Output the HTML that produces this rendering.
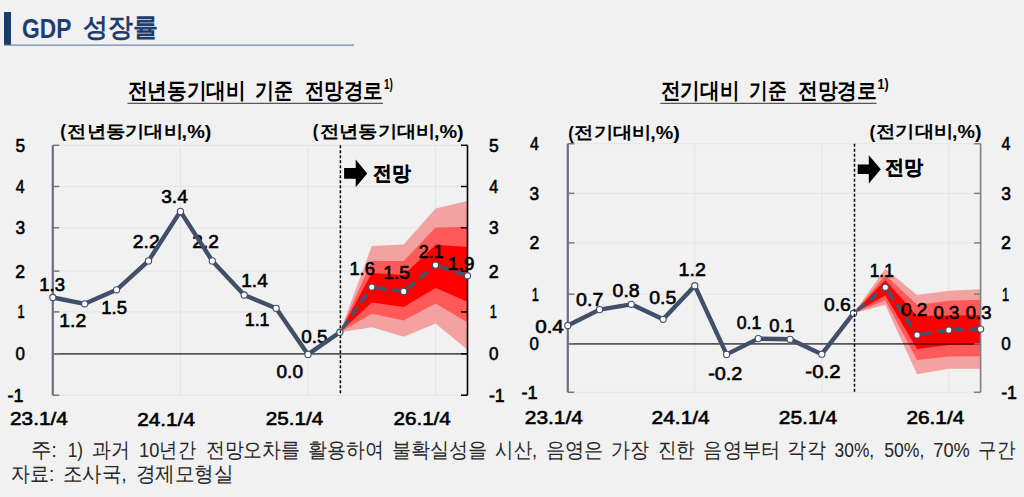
<!DOCTYPE html><html><head><meta charset="utf-8"><style>
html,body{margin:0;padding:0;background:#f1f1f1;width:1024px;height:497px;overflow:hidden}
svg{position:absolute;left:0;top:0;font-family:"Liberation Sans",sans-serif}
</style></head><body>
<svg width="1024" height="497" viewBox="0 0 1024 497">
<rect x="4" y="12" width="7" height="33" fill="#1b3b6b"/>
<line x1="4" y1="45.1" x2="354" y2="45.1" stroke="#7189aa" stroke-width="1.3"/>
<line x1="127.5" y1="103.3" x2="383" y2="103.3" stroke="#333" stroke-width="1"/>
<line x1="660.3" y1="103.3" x2="876.6" y2="103.3" stroke="#333" stroke-width="1"/>
<line x1="52.8" y1="311.9" x2="467.5" y2="311.9" stroke="#e4e4e4" stroke-width="1"/>
<line x1="52.8" y1="271.1" x2="467.5" y2="271.1" stroke="#e4e4e4" stroke-width="1"/>
<line x1="52.8" y1="227.8" x2="467.5" y2="227.8" stroke="#e4e4e4" stroke-width="1"/>
<line x1="52.8" y1="186.5" x2="467.5" y2="186.5" stroke="#e4e4e4" stroke-width="1"/>
<line x1="52.8" y1="145.3" x2="467.5" y2="145.3" stroke="#e4e4e4" stroke-width="1"/>
<line x1="52.8" y1="395.2" x2="467.5" y2="395.2" stroke="#e4e4e4" stroke-width="1"/>
<line x1="180.4" y1="145.3" x2="180.4" y2="395.2" stroke="#e4e4e4" stroke-width="1"/>
<line x1="308.0" y1="145.3" x2="308.0" y2="395.2" stroke="#e4e4e4" stroke-width="1"/>
<line x1="435.6" y1="145.3" x2="435.6" y2="395.2" stroke="#e4e4e4" stroke-width="1"/>
<path d="M339.9,332.2 L371.8,246.0 L403.7,244.4 L435.6,208.6 L467.5,201.0 L467.5,349.7 L435.6,323.4 L403.7,336.7 L371.8,327.3 Z" fill="#f4a1a1"/>
<path d="M339.9,332.2 L371.8,261.0 L403.7,261.0 L435.6,227.4 L467.5,226.7 L467.5,322.5 L435.6,303.5 L403.7,320.5 L371.8,313.7 Z" fill="#ff5a5a"/>
<path d="M339.9,332.2 L371.8,273.0 L403.7,275.0 L435.6,244.8 L467.5,247.0 L467.5,301.7 L435.6,288.0 L403.7,307.0 L371.8,302.4 Z" fill="#ff0000"/>
<line x1="52.8" y1="353.8" x2="467.5" y2="353.8" stroke="#000" stroke-opacity="0.64" stroke-width="1.7"/>
<line x1="52.8" y1="145.3" x2="52.8" y2="395.2" stroke="#6c6c86" stroke-width="2.2"/>
<line x1="467.5" y1="145.3" x2="467.5" y2="395.2" stroke="#000" stroke-width="1.6"/>
<line x1="52.8" y1="395.2" x2="59.3" y2="395.2" stroke="#777" stroke-width="1.5"/>
<line x1="461.0" y1="395.2" x2="467.5" y2="395.2" stroke="#000" stroke-width="1.5"/>
<line x1="52.8" y1="353.8" x2="59.3" y2="353.8" stroke="#777" stroke-width="1.5"/>
<line x1="461.0" y1="353.8" x2="467.5" y2="353.8" stroke="#000" stroke-width="1.5"/>
<line x1="52.8" y1="311.9" x2="59.3" y2="311.9" stroke="#777" stroke-width="1.5"/>
<line x1="461.0" y1="311.9" x2="467.5" y2="311.9" stroke="#000" stroke-width="1.5"/>
<line x1="52.8" y1="271.1" x2="59.3" y2="271.1" stroke="#777" stroke-width="1.5"/>
<line x1="461.0" y1="271.1" x2="467.5" y2="271.1" stroke="#000" stroke-width="1.5"/>
<line x1="52.8" y1="227.8" x2="59.3" y2="227.8" stroke="#777" stroke-width="1.5"/>
<line x1="461.0" y1="227.8" x2="467.5" y2="227.8" stroke="#000" stroke-width="1.5"/>
<line x1="52.8" y1="186.5" x2="59.3" y2="186.5" stroke="#777" stroke-width="1.5"/>
<line x1="461.0" y1="186.5" x2="467.5" y2="186.5" stroke="#000" stroke-width="1.5"/>
<line x1="52.8" y1="145.3" x2="59.3" y2="145.3" stroke="#777" stroke-width="1.5"/>
<line x1="461.0" y1="145.3" x2="467.5" y2="145.3" stroke="#000" stroke-width="1.5"/>
<path d="M339.9,332.2 L371.8,287.0" fill="none" stroke="#3d566c" stroke-width="3.6" stroke-linecap="round" stroke-dasharray="7.5 8.5" stroke-dashoffset="-6"/>
<path d="M371.8,287.0 L403.7,291.4" fill="none" stroke="#3d566c" stroke-width="3.6" stroke-linecap="round" stroke-dasharray="7.5 8.5" stroke-dashoffset="-6"/>
<path d="M403.7,291.4 L435.6,265.1" fill="none" stroke="#3d566c" stroke-width="3.6" stroke-linecap="round" stroke-dasharray="7.5 8.5" stroke-dashoffset="-6"/>
<path d="M435.6,265.1 L467.5,275.8" fill="none" stroke="#3d566c" stroke-width="3.6" stroke-linecap="round" stroke-dasharray="7.5 8.5" stroke-dashoffset="-6"/>
<circle cx="371.8" cy="287.0" r="3.1" fill="#fff" stroke="#424f6a" stroke-width="1.1"/>
<circle cx="403.7" cy="291.4" r="3.1" fill="#fff" stroke="#424f6a" stroke-width="1.1"/>
<circle cx="435.6" cy="265.1" r="3.1" fill="#fff" stroke="#424f6a" stroke-width="1.1"/>
<circle cx="467.5" cy="275.8" r="3.1" fill="#fff" stroke="#424f6a" stroke-width="1.1"/>
<path d="M344.1,168.1 L355.7,168.1 L355.7,159.6 L367.2,173.39999999999998 L355.7,187.2 L355.7,178.7 L344.1,178.7 Z" fill="#000"/>
<line x1="567.8" y1="294.2" x2="980.6" y2="294.2" stroke="#e4e4e4" stroke-width="1"/>
<line x1="567.8" y1="242.9" x2="980.6" y2="242.9" stroke="#e4e4e4" stroke-width="1"/>
<line x1="567.8" y1="193.4" x2="980.6" y2="193.4" stroke="#e4e4e4" stroke-width="1"/>
<line x1="567.8" y1="143.7" x2="980.6" y2="143.7" stroke="#e4e4e4" stroke-width="1"/>
<line x1="567.8" y1="392.3" x2="980.6" y2="392.3" stroke="#e4e4e4" stroke-width="1"/>
<line x1="694.8" y1="143.7" x2="694.8" y2="392.3" stroke="#e4e4e4" stroke-width="1"/>
<line x1="821.8" y1="143.7" x2="821.8" y2="392.3" stroke="#e4e4e4" stroke-width="1"/>
<line x1="948.8" y1="143.7" x2="948.8" y2="392.3" stroke="#e4e4e4" stroke-width="1"/>
<path d="M853.6,313.2 L885.3,268.8 L917.1,295.1 L948.8,290.8 L980.6,289.3 L980.6,368.8 L948.8,368.8 L917.1,374.2 L885.3,304.8 Z" fill="#f4a1a1"/>
<path d="M853.6,313.2 L885.3,275.0 L917.1,304.8 L948.8,300.8 L980.6,299.8 L980.6,356.3 L948.8,356.5 L917.1,360.1 L885.3,300.3 Z" fill="#ff5a5a"/>
<path d="M853.6,313.2 L885.3,280.0 L917.1,316.0 L948.8,315.5 L980.6,315.3 L980.6,344.5 L948.8,345.0 L917.1,348.9 L885.3,295.5 Z" fill="#ff0000"/>
<line x1="567.8" y1="343.9" x2="980.6" y2="343.9" stroke="#000" stroke-opacity="0.64" stroke-width="1.7"/>
<line x1="567.8" y1="143.7" x2="567.8" y2="392.3" stroke="#6c6c86" stroke-width="2.2"/>
<line x1="980.6" y1="143.7" x2="980.6" y2="392.3" stroke="#7f7f7f" stroke-width="1.6"/>
<line x1="567.8" y1="392.3" x2="574.3" y2="392.3" stroke="#777" stroke-width="1.5"/>
<line x1="974.1" y1="392.3" x2="980.6" y2="392.3" stroke="#7f7f7f" stroke-width="1.5"/>
<line x1="567.8" y1="343.9" x2="574.3" y2="343.9" stroke="#777" stroke-width="1.5"/>
<line x1="974.1" y1="343.9" x2="980.6" y2="343.9" stroke="#7f7f7f" stroke-width="1.5"/>
<line x1="567.8" y1="294.2" x2="574.3" y2="294.2" stroke="#777" stroke-width="1.5"/>
<line x1="974.1" y1="294.2" x2="980.6" y2="294.2" stroke="#7f7f7f" stroke-width="1.5"/>
<line x1="567.8" y1="242.9" x2="574.3" y2="242.9" stroke="#777" stroke-width="1.5"/>
<line x1="974.1" y1="242.9" x2="980.6" y2="242.9" stroke="#7f7f7f" stroke-width="1.5"/>
<line x1="567.8" y1="193.4" x2="574.3" y2="193.4" stroke="#777" stroke-width="1.5"/>
<line x1="974.1" y1="193.4" x2="980.6" y2="193.4" stroke="#7f7f7f" stroke-width="1.5"/>
<line x1="567.8" y1="143.7" x2="574.3" y2="143.7" stroke="#777" stroke-width="1.5"/>
<line x1="974.1" y1="143.7" x2="980.6" y2="143.7" stroke="#7f7f7f" stroke-width="1.5"/>
<path d="M853.6,313.2 L885.3,287.3" fill="none" stroke="#3d566c" stroke-width="3.6" stroke-linecap="round" stroke-dasharray="7.5 8.5" stroke-dashoffset="-6"/>
<path d="M885.3,287.3 L917.1,335.0" fill="none" stroke="#3d566c" stroke-width="3.6" stroke-linecap="round" stroke-dasharray="7.5 8.5" stroke-dashoffset="-6"/>
<path d="M917.1,335.0 L948.8,330.0" fill="none" stroke="#3d566c" stroke-width="3.6" stroke-linecap="round" stroke-dasharray="7.5 8.5" stroke-dashoffset="-6"/>
<path d="M948.8,330.0 L980.6,329.1" fill="none" stroke="#3d566c" stroke-width="3.6" stroke-linecap="round" stroke-dasharray="7.5 8.5" stroke-dashoffset="-6"/>
<circle cx="885.3" cy="287.3" r="3.1" fill="#fff" stroke="#424f6a" stroke-width="1.1"/>
<circle cx="917.1" cy="335.0" r="3.1" fill="#fff" stroke="#424f6a" stroke-width="1.1"/>
<circle cx="948.8" cy="330.0" r="3.1" fill="#fff" stroke="#424f6a" stroke-width="1.1"/>
<circle cx="980.6" cy="329.1" r="3.1" fill="#fff" stroke="#424f6a" stroke-width="1.1"/>
<path d="M857.7,164.6 L868.8,164.6 L868.8,155.2 L880.8,169.3 L868.8,183.4 L868.8,174 L857.7,174 Z" fill="#000"/>
<text x="22.09" y="37.94" font-size="27.5" font-weight="bold" fill="#1e3d6e" textLength="49.25" lengthAdjust="spacingAndGlyphs">GDP</text>
<text x="83.25" y="35.65" font-size="25.5" font-weight="bold" fill="#1e3d6e" textLength="75.05" lengthAdjust="spacingAndGlyphs">성장률</text>
<text x="127.51" y="98.16" font-size="21.7" font-weight="bold" fill="#000" textLength="118.35" lengthAdjust="spacingAndGlyphs">전년동기대비</text>
<text x="255.45" y="98.16" font-size="21.7" font-weight="bold" fill="#000" textLength="37.99" lengthAdjust="spacingAndGlyphs">기준</text>
<text x="304.63" y="98.16" font-size="21.7" font-weight="bold" fill="#000" textLength="77.94" lengthAdjust="spacingAndGlyphs">전망경로</text>
<text x="660.72" y="98.16" font-size="21.7" font-weight="bold" fill="#000" textLength="78.74" lengthAdjust="spacingAndGlyphs">전기대비</text>
<text x="749.16" y="98.16" font-size="21.7" font-weight="bold" fill="#000" textLength="37.46" lengthAdjust="spacingAndGlyphs">기준</text>
<text x="797.91" y="98.16" font-size="21.7" font-weight="bold" fill="#000" textLength="79.07" lengthAdjust="spacingAndGlyphs">전망경로</text>
<text x="383.90" y="88.97" font-size="14.5" font-weight="bold" fill="#000" textLength="8.89" lengthAdjust="spacingAndGlyphs">1)</text>
<text x="877.55" y="88.97" font-size="14.5" font-weight="bold" fill="#000" textLength="11.06" lengthAdjust="spacingAndGlyphs">1)</text>
<text x="7.38" y="401.58" font-size="18.5" font-weight="normal" fill="#000" stroke="#000" stroke-width="0.6" textLength="16.12" lengthAdjust="spacingAndGlyphs">-1</text>
<text x="488.89" y="401.58" font-size="18.5" font-weight="normal" fill="#000" stroke="#000" stroke-width="0.6" textLength="15.78" lengthAdjust="spacingAndGlyphs">-1</text>
<text x="15.43" y="360.18" font-size="18.5" font-weight="normal" fill="#000" stroke="#000" stroke-width="0.6" textLength="9.39" lengthAdjust="spacingAndGlyphs">0</text>
<text x="488.92" y="360.18" font-size="18.5" font-weight="normal" fill="#000" stroke="#000" stroke-width="0.6" textLength="9.50" lengthAdjust="spacingAndGlyphs">0</text>
<text x="17.48" y="318.28" font-size="18.5" font-weight="normal" fill="#000" stroke="#000" stroke-width="0.6" textLength="7.11" lengthAdjust="spacingAndGlyphs">1</text>
<text x="489.78" y="318.28" font-size="18.5" font-weight="normal" fill="#000" stroke="#000" stroke-width="0.6" textLength="7.11" lengthAdjust="spacingAndGlyphs">1</text>
<text x="15.22" y="277.58" font-size="18.5" font-weight="normal" fill="#000" stroke="#000" stroke-width="0.6" textLength="9.79" lengthAdjust="spacingAndGlyphs">2</text>
<text x="488.71" y="277.58" font-size="18.5" font-weight="normal" fill="#000" stroke="#000" stroke-width="0.6" textLength="9.92" lengthAdjust="spacingAndGlyphs">2</text>
<text x="15.41" y="234.18" font-size="18.5" font-weight="normal" fill="#000" stroke="#000" stroke-width="0.6" textLength="9.59" lengthAdjust="spacingAndGlyphs">3</text>
<text x="488.90" y="234.18" font-size="18.5" font-weight="normal" fill="#000" stroke="#000" stroke-width="0.6" textLength="9.70" lengthAdjust="spacingAndGlyphs">3</text>
<text x="15.78" y="192.97" font-size="18.5" font-weight="normal" fill="#000" stroke="#000" stroke-width="0.6" textLength="8.83" lengthAdjust="spacingAndGlyphs">4</text>
<text x="489.28" y="192.97" font-size="18.5" font-weight="normal" fill="#000" stroke="#000" stroke-width="0.6" textLength="8.94" lengthAdjust="spacingAndGlyphs">4</text>
<text x="15.41" y="151.59" font-size="18.5" font-weight="normal" fill="#000" stroke="#000" stroke-width="0.6" textLength="9.59" lengthAdjust="spacingAndGlyphs">5</text>
<text x="488.90" y="151.59" font-size="18.5" font-weight="normal" fill="#000" stroke="#000" stroke-width="0.6" textLength="9.70" lengthAdjust="spacingAndGlyphs">5</text>
<text x="39.32" y="290.86" font-size="18.3" font-weight="normal" fill="#000" stroke="#000" stroke-width="0.6" textLength="25.72" lengthAdjust="spacingAndGlyphs">1.3</text>
<text x="59.35" y="326.90" font-size="18.3" font-weight="normal" fill="#000" stroke="#000" stroke-width="0.6" textLength="26.92" lengthAdjust="spacingAndGlyphs">1.2</text>
<text x="101.32" y="314.32" font-size="18.3" font-weight="normal" fill="#000" stroke="#000" stroke-width="0.6" textLength="25.72" lengthAdjust="spacingAndGlyphs">1.5</text>
<text x="132.83" y="247.70" font-size="18.3" font-weight="normal" fill="#000" stroke="#000" stroke-width="0.6" textLength="26.83" lengthAdjust="spacingAndGlyphs">2.2</text>
<text x="161.24" y="203.46" font-size="18.3" font-weight="normal" fill="#000" stroke="#000" stroke-width="0.6" textLength="26.54" lengthAdjust="spacingAndGlyphs">3.4</text>
<text x="192.35" y="247.70" font-size="18.3" font-weight="normal" fill="#000" stroke="#000" stroke-width="0.6" textLength="26.51" lengthAdjust="spacingAndGlyphs">2.2</text>
<text x="241.28" y="286.86" font-size="18.3" font-weight="normal" fill="#000" stroke="#000" stroke-width="0.6" textLength="26.50" lengthAdjust="spacingAndGlyphs">1.4</text>
<text x="244.67" y="326.31" font-size="18.3" font-weight="normal" fill="#000" stroke="#000" stroke-width="0.6" textLength="24.93" lengthAdjust="spacingAndGlyphs">1.1</text>
<text x="276.54" y="377.56" font-size="18.3" font-weight="normal" fill="#000" stroke="#000" stroke-width="0.6" textLength="26.42" lengthAdjust="spacingAndGlyphs">0.0</text>
<text x="301.25" y="342.96" font-size="18.3" font-weight="normal" fill="#000" stroke="#000" stroke-width="0.6" textLength="26.21" lengthAdjust="spacingAndGlyphs">0.5</text>
<text x="349.43" y="275.31" font-size="18.3" font-weight="normal" fill="#000" stroke="#000" stroke-width="0.6" textLength="25.50" lengthAdjust="spacingAndGlyphs">1.6</text>
<text x="383.38" y="279.07" font-size="18.3" font-weight="normal" fill="#000" stroke="#000" stroke-width="0.6" textLength="26.38" lengthAdjust="spacingAndGlyphs">1.5</text>
<text x="418.70" y="257.81" font-size="18.3" font-weight="normal" fill="#000" stroke="#000" stroke-width="0.6" textLength="24.89" lengthAdjust="spacingAndGlyphs">2.1</text>
<text x="447.76" y="270.11" font-size="18.3" font-weight="normal" fill="#000" stroke="#000" stroke-width="0.6" textLength="26.81" lengthAdjust="spacingAndGlyphs">1.9</text>
<text x="10.06" y="425.32" font-size="18.3" font-weight="normal" fill="#000" stroke="#000" stroke-width="0.6" textLength="57.77" lengthAdjust="spacingAndGlyphs">23.1/4</text>
<text x="137.26" y="425.50" font-size="18.3" font-weight="normal" fill="#000" stroke="#000" stroke-width="0.6" textLength="57.67" lengthAdjust="spacingAndGlyphs">24.1/4</text>
<text x="265.76" y="425.32" font-size="18.3" font-weight="normal" fill="#000" stroke="#000" stroke-width="0.6" textLength="57.56" lengthAdjust="spacingAndGlyphs">25.1/4</text>
<text x="393.47" y="425.32" font-size="18.3" font-weight="normal" fill="#000" stroke="#000" stroke-width="0.6" textLength="57.36" lengthAdjust="spacingAndGlyphs">26.1/4</text>
<text x="373.01" y="179.70" font-size="19.5" font-weight="bold" fill="#000" stroke="#000" stroke-width="0.3" textLength="37.53" lengthAdjust="spacingAndGlyphs">전망</text>
<text x="60.24" y="137.33" font-size="18" font-weight="bold" fill="#000" textLength="5.71" lengthAdjust="spacingAndGlyphs">(</text>
<text x="67.34" y="136.77" font-size="17.4" font-weight="bold" fill="#000" textLength="115.66" lengthAdjust="spacingAndGlyphs">전년동기대비</text>
<text x="181.61" y="137.62" font-size="18" font-weight="bold" fill="#000" textLength="29.78" lengthAdjust="spacingAndGlyphs">,%)</text>
<text x="312.76" y="137.33" font-size="18" font-weight="bold" fill="#000" textLength="5.59" lengthAdjust="spacingAndGlyphs">(</text>
<text x="319.64" y="136.77" font-size="17.4" font-weight="bold" fill="#000" textLength="115.77" lengthAdjust="spacingAndGlyphs">전년동기대비</text>
<text x="434.02" y="137.62" font-size="18" font-weight="bold" fill="#000" textLength="29.67" lengthAdjust="spacingAndGlyphs">,%)</text>
<text x="521.57" y="398.68" font-size="18.5" font-weight="normal" fill="#000" stroke="#000" stroke-width="0.6" textLength="16.12" lengthAdjust="spacingAndGlyphs">-1</text>
<text x="1001.19" y="398.68" font-size="18.5" font-weight="normal" fill="#000" stroke="#000" stroke-width="0.6" textLength="15.78" lengthAdjust="spacingAndGlyphs">-1</text>
<text x="529.62" y="350.28" font-size="18.5" font-weight="normal" fill="#000" stroke="#000" stroke-width="0.6" textLength="9.39" lengthAdjust="spacingAndGlyphs">0</text>
<text x="1001.22" y="350.28" font-size="18.5" font-weight="normal" fill="#000" stroke="#000" stroke-width="0.6" textLength="9.50" lengthAdjust="spacingAndGlyphs">0</text>
<text x="531.68" y="300.58" font-size="18.5" font-weight="normal" fill="#000" stroke="#000" stroke-width="0.6" textLength="7.11" lengthAdjust="spacingAndGlyphs">1</text>
<text x="1002.08" y="300.58" font-size="18.5" font-weight="normal" fill="#000" stroke="#000" stroke-width="0.6" textLength="7.11" lengthAdjust="spacingAndGlyphs">1</text>
<text x="529.42" y="249.38" font-size="18.5" font-weight="normal" fill="#000" stroke="#000" stroke-width="0.6" textLength="9.79" lengthAdjust="spacingAndGlyphs">2</text>
<text x="1001.01" y="249.38" font-size="18.5" font-weight="normal" fill="#000" stroke="#000" stroke-width="0.6" textLength="9.92" lengthAdjust="spacingAndGlyphs">2</text>
<text x="529.61" y="199.78" font-size="18.5" font-weight="normal" fill="#000" stroke="#000" stroke-width="0.6" textLength="9.59" lengthAdjust="spacingAndGlyphs">3</text>
<text x="1001.20" y="199.78" font-size="18.5" font-weight="normal" fill="#000" stroke="#000" stroke-width="0.6" textLength="9.70" lengthAdjust="spacingAndGlyphs">3</text>
<text x="529.98" y="150.17" font-size="18.5" font-weight="normal" fill="#000" stroke="#000" stroke-width="0.6" textLength="8.83" lengthAdjust="spacingAndGlyphs">4</text>
<text x="1001.58" y="150.17" font-size="18.5" font-weight="normal" fill="#000" stroke="#000" stroke-width="0.6" textLength="8.94" lengthAdjust="spacingAndGlyphs">4</text>
<text x="535.18" y="333.46" font-size="18.3" font-weight="normal" fill="#000" stroke="#000" stroke-width="0.6" textLength="28.65" lengthAdjust="spacingAndGlyphs">0.4</text>
<text x="576.12" y="305.51" font-size="18.3" font-weight="normal" fill="#000" stroke="#000" stroke-width="0.6" textLength="27.27" lengthAdjust="spacingAndGlyphs">0.7</text>
<text x="612.62" y="296.51" font-size="18.3" font-weight="normal" fill="#000" stroke="#000" stroke-width="0.6" textLength="27.06" lengthAdjust="spacingAndGlyphs">0.8</text>
<text x="649.22" y="303.86" font-size="18.3" font-weight="normal" fill="#000" stroke="#000" stroke-width="0.6" textLength="26.95" lengthAdjust="spacingAndGlyphs">0.5</text>
<text x="678.63" y="276.46" font-size="18.3" font-weight="normal" fill="#000" stroke="#000" stroke-width="0.6" textLength="27.25" lengthAdjust="spacingAndGlyphs">1.2</text>
<text x="708.20" y="380.16" font-size="18.3" font-weight="normal" fill="#000" stroke="#000" stroke-width="0.6" textLength="34.25" lengthAdjust="spacingAndGlyphs">-0.2</text>
<text x="736.69" y="329.21" font-size="18.3" font-weight="normal" fill="#000" stroke="#000" stroke-width="0.6" textLength="24.60" lengthAdjust="spacingAndGlyphs">0.1</text>
<text x="769.26" y="332.11" font-size="18.3" font-weight="normal" fill="#000" stroke="#000" stroke-width="0.6" textLength="25.56" lengthAdjust="spacingAndGlyphs">0.1</text>
<text x="805.39" y="378.16" font-size="18.3" font-weight="normal" fill="#000" stroke="#000" stroke-width="0.6" textLength="35.10" lengthAdjust="spacingAndGlyphs">-0.2</text>
<text x="824.03" y="310.56" font-size="18.3" font-weight="normal" fill="#000" stroke="#000" stroke-width="0.6" textLength="26.85" lengthAdjust="spacingAndGlyphs">0.6</text>
<text x="869.71" y="276.61" font-size="18.3" font-weight="normal" fill="#000" stroke="#000" stroke-width="0.6" textLength="24.16" lengthAdjust="spacingAndGlyphs">1.1</text>
<text x="900.94" y="315.56" font-size="18.3" font-weight="normal" fill="#000" stroke="#000" stroke-width="0.6" textLength="26.41" lengthAdjust="spacingAndGlyphs">0.2</text>
<text x="933.55" y="318.91" font-size="18.3" font-weight="normal" fill="#000" stroke="#000" stroke-width="0.6" textLength="25.89" lengthAdjust="spacingAndGlyphs">0.3</text>
<text x="965.76" y="318.91" font-size="18.3" font-weight="normal" fill="#000" stroke="#000" stroke-width="0.6" textLength="25.68" lengthAdjust="spacingAndGlyphs">0.3</text>
<text x="524.75" y="423.72" font-size="18.3" font-weight="normal" fill="#000" stroke="#000" stroke-width="0.6" textLength="58.18" lengthAdjust="spacingAndGlyphs">23.1/4</text>
<text x="651.55" y="423.90" font-size="18.3" font-weight="normal" fill="#000" stroke="#000" stroke-width="0.6" textLength="58.18" lengthAdjust="spacingAndGlyphs">24.1/4</text>
<text x="778.75" y="423.72" font-size="18.3" font-weight="normal" fill="#000" stroke="#000" stroke-width="0.6" textLength="58.39" lengthAdjust="spacingAndGlyphs">25.1/4</text>
<text x="906.46" y="423.72" font-size="18.3" font-weight="normal" fill="#000" stroke="#000" stroke-width="0.6" textLength="57.77" lengthAdjust="spacingAndGlyphs">26.1/4</text>
<text x="885.40" y="174.25" font-size="19.5" font-weight="bold" fill="#000" stroke="#000" stroke-width="0.3" textLength="38.14" lengthAdjust="spacingAndGlyphs">전망</text>
<text x="568.18" y="138.53" font-size="18" font-weight="bold" fill="#000" textLength="5.47" lengthAdjust="spacingAndGlyphs">(</text>
<text x="574.23" y="137.72" font-size="17.4" font-weight="bold" fill="#000" textLength="77.38" lengthAdjust="spacingAndGlyphs">전기대비</text>
<text x="650.23" y="138.72" font-size="18" font-weight="bold" fill="#000" textLength="29.46" lengthAdjust="spacingAndGlyphs">,%)</text>
<text x="869.42" y="138.03" font-size="18" font-weight="bold" fill="#000" textLength="5.83" lengthAdjust="spacingAndGlyphs">(</text>
<text x="876.13" y="136.72" font-size="17.4" font-weight="bold" fill="#000" textLength="77.38" lengthAdjust="spacingAndGlyphs">전기대비</text>
<text x="952.13" y="138.02" font-size="18" font-weight="bold" fill="#000" textLength="29.46" lengthAdjust="spacingAndGlyphs">,%)</text>
<text x="30.87" y="456.70" font-size="21" font-weight="normal" fill="#262626" textLength="26.13" lengthAdjust="spacingAndGlyphs">주:</text>
<text x="67.82" y="456.70" font-size="21" font-weight="normal" fill="#262626" textLength="15.29" lengthAdjust="spacingAndGlyphs">1)</text>
<text x="92.36" y="456.70" font-size="21" font-weight="normal" fill="#262626" textLength="37.78" lengthAdjust="spacingAndGlyphs">과거</text>
<text x="139.04" y="456.70" font-size="21" font-weight="normal" fill="#262626" textLength="56.75" lengthAdjust="spacingAndGlyphs">10년간</text>
<text x="205.57" y="456.70" font-size="21" font-weight="normal" fill="#262626" textLength="94.74" lengthAdjust="spacingAndGlyphs">전망오차를</text>
<text x="307.97" y="456.70" font-size="21" font-weight="normal" fill="#262626" textLength="75.87" lengthAdjust="spacingAndGlyphs">활용하여</text>
<text x="391.77" y="456.70" font-size="21" font-weight="normal" fill="#262626" textLength="95.26" lengthAdjust="spacingAndGlyphs">불확실성을</text>
<text x="495.37" y="456.70" font-size="21" font-weight="normal" fill="#262626" textLength="41.64" lengthAdjust="spacingAndGlyphs">시산,</text>
<text x="545.65" y="456.70" font-size="21" font-weight="normal" fill="#262626" textLength="57.68" lengthAdjust="spacingAndGlyphs">음영은</text>
<text x="611.27" y="456.70" font-size="21" font-weight="normal" fill="#262626" textLength="37.89" lengthAdjust="spacingAndGlyphs">가장</text>
<text x="657.80" y="456.70" font-size="21" font-weight="normal" fill="#262626" textLength="37.16" lengthAdjust="spacingAndGlyphs">진한</text>
<text x="703.36" y="456.70" font-size="21" font-weight="normal" fill="#262626" textLength="76.83" lengthAdjust="spacingAndGlyphs">음영부터</text>
<text x="787.48" y="456.70" font-size="21" font-weight="normal" fill="#262626" textLength="38.10" lengthAdjust="spacingAndGlyphs">각각</text>
<text x="834.61" y="456.70" font-size="21" font-weight="normal" fill="#262626" textLength="39.54" lengthAdjust="spacingAndGlyphs">30%,</text>
<text x="884.19" y="456.70" font-size="21" font-weight="normal" fill="#262626" textLength="40.18" lengthAdjust="spacingAndGlyphs">50%,</text>
<text x="933.29" y="456.70" font-size="21" font-weight="normal" fill="#262626" textLength="36.49" lengthAdjust="spacingAndGlyphs">70%</text>
<text x="978.11" y="456.70" font-size="21" font-weight="normal" fill="#262626" textLength="37.14" lengthAdjust="spacingAndGlyphs">구간</text>
<text x="11.15" y="480.50" font-size="21" font-weight="normal" fill="#262626" textLength="43.22" lengthAdjust="spacingAndGlyphs">자료:</text>
<text x="62.73" y="480.50" font-size="21" font-weight="normal" fill="#262626" textLength="63.98" lengthAdjust="spacingAndGlyphs">조사국,</text>
<text x="135.53" y="480.50" font-size="21" font-weight="normal" fill="#262626" textLength="98.12" lengthAdjust="spacingAndGlyphs">경제모형실</text>
<path d="M52.8,297.5 L84.7,303.8 L116.6,289.8 L148.5,260.9 L180.4,211.4 L212.3,260.9 L244.2,295.0 L276.1,308.3 L308.0,354.4 L339.9,332.2" fill="none" stroke="#424f6a" stroke-width="4.4" stroke-linejoin="round"/>
<circle cx="52.8" cy="297.5" r="3.1" fill="#fff" stroke="#424f6a" stroke-width="1.1"/>
<circle cx="84.7" cy="303.8" r="3.1" fill="#fff" stroke="#424f6a" stroke-width="1.1"/>
<circle cx="116.6" cy="289.8" r="3.1" fill="#fff" stroke="#424f6a" stroke-width="1.1"/>
<circle cx="148.5" cy="260.9" r="3.1" fill="#fff" stroke="#424f6a" stroke-width="1.1"/>
<circle cx="180.4" cy="211.4" r="3.1" fill="#fff" stroke="#424f6a" stroke-width="1.1"/>
<circle cx="212.3" cy="260.9" r="3.1" fill="#fff" stroke="#424f6a" stroke-width="1.1"/>
<circle cx="244.2" cy="295.0" r="3.1" fill="#fff" stroke="#424f6a" stroke-width="1.1"/>
<circle cx="276.1" cy="308.3" r="3.1" fill="#fff" stroke="#424f6a" stroke-width="1.1"/>
<circle cx="308.0" cy="354.4" r="3.1" fill="#fff" stroke="#424f6a" stroke-width="1.1"/>
<circle cx="339.9" cy="332.2" r="3.1" fill="#fff" stroke="#424f6a" stroke-width="1.1"/>
<line x1="340.4" y1="145.3" x2="340.4" y2="395.2" stroke="#000" stroke-width="1.5" stroke-dasharray="3 2"/>
<path d="M567.8,325.5 L599.6,309.6 L631.3,304.3 L663.1,319.3 L694.8,285.7 L726.6,354.4 L758.3,338.6 L790.1,339.3 L821.8,354.2 L853.6,313.2" fill="none" stroke="#424f6a" stroke-width="4.4" stroke-linejoin="round"/>
<circle cx="567.8" cy="325.5" r="3.1" fill="#fff" stroke="#424f6a" stroke-width="1.1"/>
<circle cx="599.6" cy="309.6" r="3.1" fill="#fff" stroke="#424f6a" stroke-width="1.1"/>
<circle cx="631.3" cy="304.3" r="3.1" fill="#fff" stroke="#424f6a" stroke-width="1.1"/>
<circle cx="663.1" cy="319.3" r="3.1" fill="#fff" stroke="#424f6a" stroke-width="1.1"/>
<circle cx="694.8" cy="285.7" r="3.1" fill="#fff" stroke="#424f6a" stroke-width="1.1"/>
<circle cx="726.6" cy="354.4" r="3.1" fill="#fff" stroke="#424f6a" stroke-width="1.1"/>
<circle cx="758.3" cy="338.6" r="3.1" fill="#fff" stroke="#424f6a" stroke-width="1.1"/>
<circle cx="790.1" cy="339.3" r="3.1" fill="#fff" stroke="#424f6a" stroke-width="1.1"/>
<circle cx="821.8" cy="354.2" r="3.1" fill="#fff" stroke="#424f6a" stroke-width="1.1"/>
<circle cx="853.6" cy="313.2" r="3.1" fill="#fff" stroke="#424f6a" stroke-width="1.1"/>
<line x1="854.5" y1="143.7" x2="854.5" y2="392.3" stroke="#000" stroke-width="1.5" stroke-dasharray="3 2"/>
</svg></body></html>
